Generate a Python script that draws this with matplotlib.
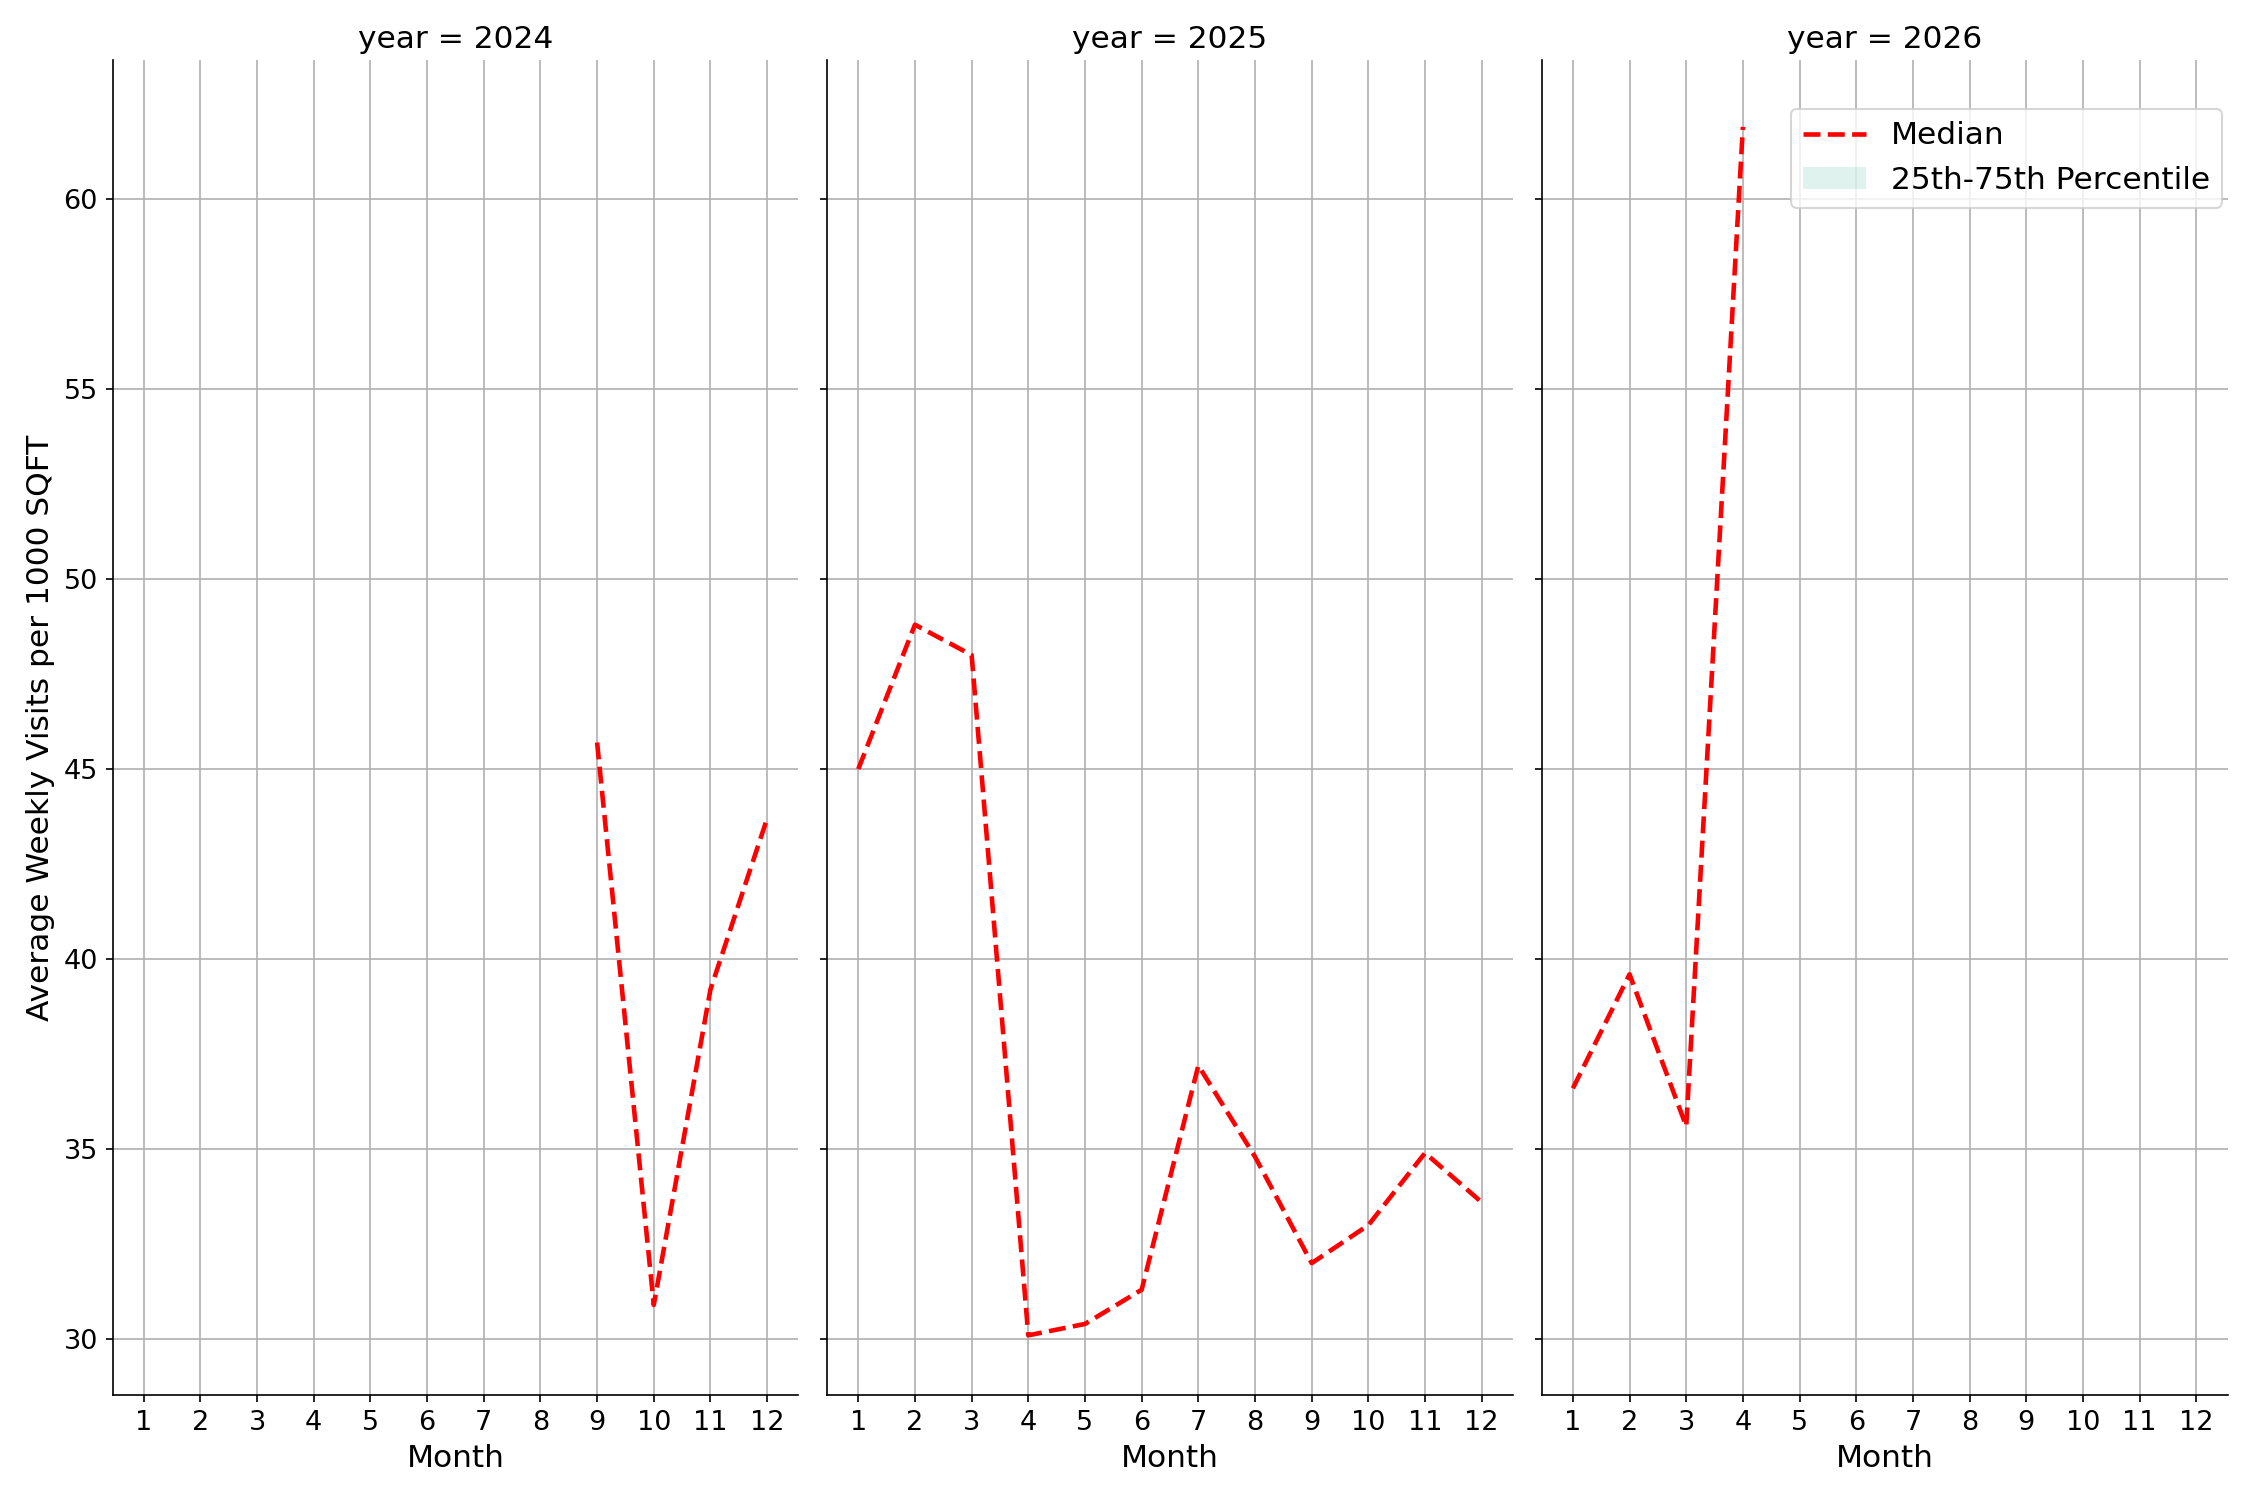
import matplotlib
matplotlib.use("Agg")
import matplotlib.pyplot as plt

years = [2024, 2025, 2026]
months = {
    2024: [9, 10, 11, 12],
    2025: [1, 2, 3, 4, 5, 6, 7, 8, 9, 10, 11, 12],
    2026: [1, 2, 3, 4],
}
median = {
    2024: [45.7, 30.9, 39.2, 43.7],
    2025: [45.0, 48.8, 48.0, 30.1, 30.4, 31.3, 37.2, 34.8, 32.0, 33.0, 34.9, 33.6],
    2026: [36.6, 39.6, 35.6, 61.9],
}
tick_months = list(range(1, 13))

fig, axes = plt.subplots(1, 3, figsize=(15, 10), dpi=150, sharey=True)
fig.subplots_adjust(left=0.05, right=0.99, top=0.96, bottom=0.07, wspace=0.042)

for ax, yr in zip(axes, years):
    x = months[yr]
    y = median[yr]
    ax.fill_between(x, y, y, color="#66c2a5", alpha=0.2, linewidth=0,
                    label="25th-75th Percentile")
    ax.plot(x, y, color="red", linestyle="--", linewidth=2.2, label="Median")
    ax.set_title(f"year = {yr}", fontsize=15)
    ax.set_xlabel("Month", fontsize=15)
    ax.set_xticks(tick_months)
    ax.set_xlim(0.45, 12.55)
    ax.set_ylim(28.53, 63.66)
    ax.grid(True, color="#b0b0b0", linewidth=0.8)
    ax.tick_params(labelsize=13)
    ax.spines["top"].set_visible(False)
    ax.spines["right"].set_visible(False)

axes[0].set_ylabel("Average Weekly Visits per 1000 SQFT", fontsize=15)
h, l = axes[2].get_legend_handles_labels()
axes[2].legend([h[1], h[0]], [l[1], l[0]], loc="upper right", fontsize=15,
               bbox_to_anchor=(1.015, 0.975))

fig.savefig("out.png")
